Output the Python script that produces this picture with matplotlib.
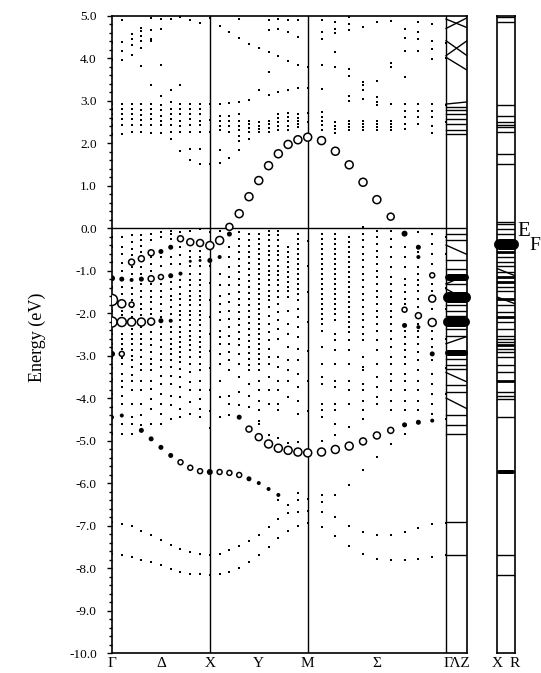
import numpy as np
import matplotlib
matplotlib.use('Agg')
import matplotlib.pyplot as plt

nan = np.nan

# ---------------- data ----------------
# symmetry points along the path (path lengths: Γ-X = 1, X-M = 1, M-Γ = √2, Γ-Z short)
sym_labels = ['Γ', 'Δ', 'X', 'Y', 'M', 'Σ', 'ΓΛZ']
n_steps = 10
gz_length = 0.214

# small dots: energies (eV) at each of the 31 k-points (Γ..X..M..Γ), conduction part
cond_cols = [
    [4.36, 3.96, 2.91, 2.81, 2.69, 2.57, 2.42, 2.22],
    [4.91, 4.38, 4.18, 3.96, 2.91, 2.81, 2.69, 2.57, 2.42, 2.22],
    [4.56, 4.45, 4.31, 4.08, 2.91, 2.81, 2.69, 2.57, 2.42, 2.26],
    [4.70, 4.63, 4.53, 4.41, 4.24, 3.81, 2.91, 2.77, 2.66, 2.54, 2.42, 2.26],
    [4.94, 4.67, 4.45, 4.40, 3.36, 2.91, 2.80, 2.68, 2.56, 2.42, 2.25],
    [4.92, 4.69, 3.83, 3.10, 2.90, 2.77, 2.65, 2.52, 2.42, 2.25],
    [4.93, 3.24, 2.97, 2.81, 2.69, 2.57, 2.43, 2.26, 2.10],
    [4.96, 3.36, 2.93, 2.80, 2.69, 2.53, 2.41, 2.26, 1.81],
    [4.89, 2.92, 2.80, 2.68, 2.56, 2.42, 2.26, 1.87, 1.61],
    [4.82, 2.93, 2.81, 2.69, 2.53, 2.42, 2.26, 1.87, 1.51],
    [4.95, 2.93, 2.55, 2.26, 1.50],
    [4.75, 2.93, 2.65, 2.53, 2.41, 2.30, 1.83, 1.53],
    [4.61, 2.94, 2.65, 2.53, 2.41, 2.26, 1.65],
    [4.92, 4.48, 2.96, 2.69, 2.53, 2.41, 2.30, 2.18, 2.06, 1.84],
    [4.34, 3.02, 2.53, 2.45, 2.35, 2.26, 2.10],
    [4.24, 3.25, 2.50, 2.41, 2.33, 2.26],
    [4.89, 4.67, 4.14, 3.67, 3.14, 2.53, 2.45, 2.35, 2.26],
    [4.92, 4.69, 4.04, 3.20, 2.69, 2.60, 2.50, 2.41, 2.30],
    [4.89, 4.61, 3.94, 3.25, 2.72, 2.62, 2.53, 2.41, 2.30],
    [4.89, 4.49, 3.83, 3.30, 2.69, 2.60, 2.53, 2.45, 2.38],
    [3.80, 3.30, 2.70, 2.50],
    [4.89, 4.61, 4.45, 3.84, 3.28, 2.74, 2.61, 2.53, 2.42, 2.30],
    [4.85, 4.69, 4.60, 4.14, 3.80, 2.49, 2.41, 2.33, 2.23],
    [4.98, 4.80, 4.66, 3.75, 3.59, 3.12, 2.99, 2.53, 2.45, 2.38, 2.30],
    [4.73, 3.43, 3.36, 3.25, 3.04, 2.53, 2.45, 2.38, 2.30],
    [4.84, 3.46, 3.08, 2.97, 2.90, 2.53, 2.45, 2.38, 2.30],
    [4.87, 3.89, 3.79, 2.93, 2.53, 2.45, 2.38, 2.30],
    [4.69, 4.48, 4.16, 3.55, 2.93, 2.76, 2.61, 2.45, 2.33],
    [4.85, 4.61, 4.45, 4.18, 2.93, 2.76, 2.61, 2.45],
    [4.81, 4.40, 4.22, 3.98, 2.93, 2.76, 2.61, 2.41, 2.23],
    [4.35, 4.00, 2.90, 2.50],
]

# small dots, valence part
val_cols = [
    [-0.20, -0.45, -0.80, -1.39, -1.95, -2.49, -2.72, -3.05, -3.30, -3.55, -3.90, -4.20, -4.50, -4.85],
    [-0.20, -0.45, -0.60, -0.82, -1.00, -1.39, -1.55, -1.95, -2.05, -2.49, -2.60, -2.72, -2.85, -3.05, -3.19,
     -3.43, -3.60, -3.74, -3.95, -4.13, -4.60, -4.84],
    [-0.17, -0.33, -0.49, -0.64, -0.92, -1.07, -1.40, -1.55, -1.70, -1.86, -1.98, -2.09, -2.37, -2.49, -2.60,
     -2.72, -2.88, -3.00, -3.11, -3.27, -3.45, -3.59, -3.82, -4.13, -4.45, -4.60, -4.84],
    [-0.17, -0.29, -0.41, -0.57, -0.92, -1.07, -1.31, -1.47, -1.63, -1.78, -1.90, -2.05, -2.33, -2.49, -2.60,
     -2.72, -2.88, -3.03, -3.19, -3.35, -3.59, -3.82, -4.13, -4.41, -4.64],
    [-0.13, -0.29, -0.68, -0.84, -1.00, -1.31, -1.47, -1.63, -1.74, -1.90, -2.02, -2.13, -2.29, -2.45, -2.60,
     -2.76, -2.92, -3.07, -3.19, -3.35, -3.59, -3.78, -4.02, -4.25, -4.60],
    [-0.10, -0.21, -0.68, -0.88, -1.31, -1.47, -1.63, -1.78, -1.94, -2.09, -2.33, -2.49, -2.64, -2.80, -2.96,
     -3.11, -3.27, -3.47, -3.66, -3.90, -4.13, -4.37, -4.60],
    [-0.06, -0.13, -0.25, -0.68, -0.84, -1.27, -1.43, -1.59, -1.70, -1.86, -2.02, -2.33, -2.45, -2.60,
     -2.72, -2.84, -2.96, -3.11, -3.27, -3.47, -3.66, -3.94, -4.17, -4.49],
    [-0.10, -0.45, -0.64, -0.84, -1.23, -1.39, -1.55, -1.66, -1.82, -1.94, -2.05, -2.17, -2.33, -2.45, -2.57,
     -2.68, -2.80, -2.92, -3.03, -3.15, -3.31, -3.51, -3.74, -3.98, -4.25, -4.45],
    [-0.06, -0.53, -0.68, -0.88, -1.07, -1.23, -1.35, -1.47, -1.59, -1.70, -1.82, -1.94, -2.05, -2.17, -2.29,
     -2.41, -2.53, -2.64, -2.76, -2.88, -3.03, -3.19, -3.39, -3.63, -3.82, -4.09, -4.37],
    [-0.02, -0.53, -0.68, -0.88, -1.07, -1.23, -1.35, -1.47, -1.59, -1.70, -1.82, -1.94, -2.05, -2.17, -2.29,
     -2.41, -2.57, -2.68, -2.80, -2.92, -3.03, -3.19, -3.35, -3.59, -3.82, -4.02, -4.25, -4.45],
    [-0.10, -0.90, -1.30, -1.70, -2.10, -2.50, -2.90, -3.30, -3.80, -4.30, -4.70],
    [-0.06, -1.08, -1.35, -1.59, -1.78, -1.98, -2.17, -2.41, -2.57, -2.72, -2.96, -3.19, -3.59, -3.98, -4.45],
    [-0.45, -0.68, -0.92, -1.15, -1.35, -1.55, -1.74, -1.94, -2.13, -2.33, -2.53, -2.72, -2.92, -3.11, -3.35,
     -3.94, -4.13, -4.41],
    [-0.09, -0.25, -0.41, -0.57, -0.72, -0.88, -1.04, -1.19, -1.35, -1.51, -1.66, -1.82, -1.98, -2.13, -2.29,
     -2.45, -2.60, -2.76, -2.96, -3.19, -3.51, -3.86, -4.17],
    [-0.13, -0.27, -0.41, -0.55, -0.69, -0.83, -0.97, -1.11, -1.25, -1.39, -1.53, -1.67, -1.81, -1.95, -2.09,
     -2.23, -2.37, -2.51, -2.65, -2.80, -2.94, -3.08, -3.23, -3.35, -3.66, -3.94, -4.21],
    [-0.13, -0.25, -0.37, -0.49, -0.61, -0.72, -0.84, -0.96, -1.08, -1.19, -1.31, -1.43, -1.55, -1.67, -1.78,
     -1.90, -2.02, -2.14, -2.25, -2.37, -2.49, -2.61, -2.72, -2.84, -2.96, -3.08, -3.19, -3.35, -3.59, -3.82,
     -4.06, -4.29, -4.53, -4.62],
    [-0.06, -0.17, -0.29, -0.41, -0.53, -0.64, -0.76, -0.88, -1.00, -1.11, -1.23, -1.35, -1.47, -1.59, -1.70,
     -1.86, -2.06, -2.25, -2.45, -2.64, -2.84, -3.04, -3.19, -3.51, -3.82, -4.13, -4.87],
    [-0.06, -0.17, -0.29, -0.41, -0.53, -0.64, -0.76, -0.88, -1.00, -1.11, -1.23, -1.35, -1.47, -1.63, -1.78,
     -1.98, -2.17, -2.37, -2.61, -3.04, -3.27, -3.59, -3.82, -4.13, -4.29, -4.95, -6.41],
    [-0.45, -0.57, -0.68, -0.80, -0.92, -1.04, -1.15, -1.27, -1.39, -1.47, -1.63, -1.94, -2.25, -2.49, -2.80,
     -3.11, -3.35, -3.59, -3.98, -5.05, -6.52],
    [-0.13, -0.25, -0.37, -0.49, -0.61, -0.72, -0.84, -0.96, -1.08, -1.19, -1.31, -1.43, -1.55, -1.70, -1.90,
     -2.10, -2.33, -2.57, -2.84, -3.11, -3.43, -3.74, -4.06, -4.37, -5.04, -6.23],
    [-0.30, -0.90, -1.50, -2.20, -2.90, -3.60, -4.30],
    [-0.13, -0.25, -0.37, -0.49, -0.61, -0.72, -0.84, -0.96, -1.08, -1.19, -1.31, -1.43, -1.55, -1.67, -1.78,
     -1.90, -2.02, -2.14, -2.25, -2.41, -2.80, -3.19, -3.51, -3.66, -4.13, -4.29, -4.45, -5.00, -6.45],
    [-0.13, -0.25, -0.37, -0.49, -0.61, -0.72, -0.84, -0.96, -1.08, -1.19, -1.31, -1.43, -1.55, -1.67, -1.78,
     -1.90, -2.02, -2.17, -2.49, -2.64, -2.88, -3.19, -3.59, -3.74, -4.13, -4.29, -4.60, -4.86],
    [-0.21, -0.33, -0.45, -0.57, -0.68, -0.80, -0.92, -1.04, -1.15, -1.27, -1.39, -1.51, -1.63, -1.74, -1.86,
     -1.98, -2.10, -2.21, -2.33, -2.45, -2.64, -2.88, -3.19, -3.59, -3.82, -4.13, -4.68],
    [0.02, -0.13, -0.29, -0.45, -0.60, -0.76, -0.92, -1.08, -1.23, -1.39, -1.55, -1.70, -1.86, -2.02, -2.17,
     -2.33, -2.49, -2.64, -3.04, -3.27, -3.35, -3.66, -3.82, -4.06, -4.29, -4.50],
    [-0.06, -0.21, -0.37, -0.53, -0.68, -0.84, -1.00, -1.15, -1.31, -1.47, -1.63, -1.78, -1.94, -2.10, -2.25,
     -2.41, -2.64, -2.88, -3.19, -3.51, -3.74, -3.98, -4.13],
    [-0.06, -0.25, -0.45, -0.68, -0.92, -1.15, -1.31, -1.47, -1.63, -1.78, -1.94, -2.10, -2.25, -2.41, -2.61,
     -2.80, -3.04, -3.19, -3.43, -3.59, -3.82, -4.06, -4.29],
    [-0.45, -0.68, -0.92, -1.19, -1.35, -1.51, -1.67, -1.78, -2.41, -2.57, -2.72, -2.88, -3.04, -3.19, -3.43,
     -3.59, -3.82, -4.06, -4.29],
    [-0.09, -0.57, -0.92, -1.08, -1.23, -1.35, -1.47, -1.67, -1.86, -2.25, -2.41, -2.57, -2.72, -2.92, -3.11,
     -3.35, -3.59, -3.82, -4.06, -4.29],
    [-0.13, -0.37, -0.60, -0.84, -1.31, -1.47, -1.90, -2.41, -2.61, -2.80, -3.11, -3.43, -3.66, -3.90, -4.13,
     -4.37],
    [-0.20, -0.60, -1.40, -1.90, -2.60, -3.30, -3.90, -4.50],
]

# deep bands (31 k-points each)
deep_band_1 = [-6.92, -6.96, -7.02, -7.12, -7.22, -7.34, -7.46, -7.55, -7.63, -7.68, -7.69,
               -7.66, -7.58, -7.49, -7.37, -7.22, -7.04, -6.84, -6.71, -6.67, -6.66,
               -6.68, -6.80, -7.00, -7.15, -7.23, -7.23, -7.16, -7.06, -6.96, -6.93]
deep_band_2 = [-7.68, -7.70, -7.74, -7.80, -7.86, -7.92, -8.02, -8.10, -8.14, -8.15, -8.17,
               -8.14, -8.10, -8.00, -7.86, -7.70, -7.51, -7.29, -7.12, -7.00, -6.95,
               -7.04, -7.25, -7.49, -7.66, -7.78, -7.82, -7.80, -7.78, -7.73, -7.69]
deep_band_3 = [nan, nan, nan, nan, nan, nan, nan, nan, nan, nan, nan,
               nan, nan, nan, nan, nan, nan, nan, nan, -6.41, -6.38,
               -6.29, -6.29, -6.04, -5.70, -5.39, -5.08, -4.84, nan, nan, nan]

# weighted (fat-band) markers: k index, energy, marker diameter (px)
open_k = [0, 0, 1, 1, 1, 2, 2, 2, 3, 3, 4, 4, 4, 5, 7, 8, 9, 10, 11, 12,
          13, 14, 15, 16, 17, 18, 19, 20, 21, 22, 23, 24, 25, 26,
          27, 28, 29, 29, 29,
          7, 8, 9, 11, 12, 13,
          14, 15, 16, 17, 18, 19, 20, 21, 22, 23, 24, 25, 26]
open_e = [-1.69, -2.21, -1.78, -2.21, -2.96, -0.80, -1.80, -2.21, -0.72, -2.21, -0.58, -1.19, -2.20, -1.15,
          -0.25, -0.33, -0.35, -0.41, -0.29, 0.03,
          0.34, 0.74, 1.12, 1.47, 1.75, 1.97, 2.08, 2.14, 2.06, 1.81, 1.49, 1.08, 0.67, 0.27,
          -1.92, -2.06, -1.11, -1.66, -2.22,
          -5.51, -5.64, -5.72, -5.74, -5.76, -5.81,
          -4.73, -4.92, -5.08, -5.18, -5.23, -5.27, -5.29, -5.27, -5.21, -5.13, -5.02, -4.88, -4.76]
open_d = [11, 10, 8, 9, 5, 6, 5, 8, 6, 8, 6, 6, 7, 5, 6, 7, 7, 8, 8, 7,
          8, 8, 8, 8, 8, 8, 8, 8, 8, 8, 8, 8, 8, 7,
          5, 6, 5, 7, 8,
          5, 5, 5, 5, 5, 5,
          6, 7, 8, 8, 8, 8, 8, 8, 8, 8, 7, 7, 6]

fill_k = [0, 0, 1, 2, 3, 5, 5, 6, 6, 6, 7, 8, 9, 10, 11, 12,
          27, 28, 28, 27, 29, 28,
          3, 4, 5, 6, 10, 14, 15, 16, 17, 13, 27, 28, 29, 1, 0]
fill_e = [-1.18, -2.96, -1.20, -1.22, -1.20, -0.55, -2.18, -0.45, -1.12, -2.18, -1.07, -0.78, -0.76, -0.76,
          -0.68, -0.14,
          -0.13, -0.45, -0.68, -2.29, -2.96, -2.33,
          -4.76, -4.96, -5.16, -5.35, -5.74, -5.90, -6.00, -6.14, -6.28, -4.45, -4.63, -4.57, -4.53, -4.41, -4.45]
fill_d = [6, 6, 5, 4, 5, 5, 5, 5, 5, 4, 4, 3, 3, 5, 4, 5,
          6, 5, 4, 5, 5, 4,
          5, 5, 5, 5, 6, 5, 4, 4, 4, 5, 5, 5, 4, 4, 4]

# Γ-Z strip: energy at Γ and at Z
gz_gamma = [4.92, 4.70, 4.41, 4.06, 4.02, 2.92, 2.85, 2.77, 2.69, 2.57, 2.45, 2.30, 2.22,
            -0.14, -0.29, -0.40, -0.76, -0.96, -1.31, -1.31, -1.43, -1.82, -1.94, -2.06, -2.37, -2.53,
            -2.72, -3.08, -3.23, -3.31, -3.40, -3.70, -3.86, -4.00, -4.41, -4.64, -4.84, -6.92, -7.69]
gz_z = [4.72, 4.95, 4.06, 4.41, 3.72, 2.97, 2.85, 2.77, 2.69, 2.57, 2.45, 2.30, 2.22,
        -0.14, -0.29, -0.62, -0.76, -0.96, -1.10, -1.31, -1.70, -1.82, -1.94, -2.06, -2.37, -2.53,
        -2.55, -3.08, -3.23, -3.31, -3.62, -3.70, -3.86, -4.25, -4.41, -4.64, -4.84, -6.92, -7.69]
gz_blob_e = [-1.16, -1.63, -2.21, -2.95]
gz_blob_w = [7, 11, 10, 6]

# X-R strip: energy at X and at R
xr_x = [4.96, 4.85, 2.90, 2.65, 2.49, 2.43, 2.38, 2.26, 1.75, 1.50, 0.14, 0.10, -0.02, -0.13,
        -0.57, -0.68, -0.80, -0.88, -0.95, -1.04, -1.15, -1.27, -1.39, -1.47, -1.62, -1.66, -1.82, -1.98,
        -2.10, -2.21, -2.37, -2.53, -2.60, -2.68, -2.76, -2.84, -2.92, -3.04, -3.23, -3.39, -3.59,
        -3.86, -3.94, -4.02, -4.45, -7.69, -8.16]
xr_r = [4.96, 4.85, 2.90, 2.65, 2.49, 2.43, 2.38, 2.26, 1.75, 1.50, 0.14, 0.10, -0.02, -0.13,
        -0.57, -0.68, -0.80, -0.88, -1.12, -1.04, -1.15, -1.27, -1.39, -1.47, -1.78, -1.66, -1.82, -1.98,
        -2.10, -2.21, -2.37, -2.53, -2.60, -2.68, -2.76, -2.84, -2.92, -3.04, -3.23, -3.39, -3.59,
        -3.86, -3.94, -4.02, -4.45, -7.69, -8.16]
xr_bold = [-0.57, -1.15, -1.27, -1.66, -2.10, -2.76, -3.59]
xr_blob_e = [-0.37, -5.74]
xr_blob_w = [11, 4]

# ---------------- figure ----------------
W, H = 541, 673
fig = plt.figure(figsize=(W / 100, H / 100), dpi=100)
serif = ['Liberation Serif', 'DejaVu Serif']
plt.rcParams['font.family'] = serif

px = 0.72  # points per pixel at 100 dpi
dot = (1.9 * px) ** 2

# k positions
seg = [1.0, 1.0, np.sqrt(2)]
kx = [0.0]
for L in seg:
    for i in range(n_steps):
        kx.append(kx[-1] + L / n_steps)
kx = np.array(kx)
x_X, x_M, x_G2 = kx[10], kx[20], kx[30]
x_Z = x_G2 + gz_length

ax = fig.add_axes([112 / W, 1 - 653 / H, 355 / W, 637.3 / H])
ax.set_xlim(0, x_Z)
ax.set_ylim(-10, 5)

# small dots
for cols in (cond_cols, val_cols):
    xs, ys = [], []
    for i, col in enumerate(cols):
        xs += [kx[i]] * len(col)
        ys += col
    ax.scatter(xs, ys, s=dot, c='black', marker='s', linewidths=0, zorder=3)

for band in (deep_band_1, deep_band_2, deep_band_3):
    ax.scatter(kx, band, s=dot, c='black', marker='s', linewidths=0, zorder=3)

# fat markers
ax.scatter(kx[open_k], open_e, s=(np.array(open_d) * px) ** 2, facecolors='white',
           edgecolors='black', linewidths=1.1, zorder=4)
ax.scatter(kx[fill_k], fill_e, s=(np.array(fill_d) * px) ** 2, c='black', linewidths=0, zorder=4)

# Γ-Z strip
for eg, ez in zip(gz_gamma, gz_z):
    ax.plot([x_G2, x_Z], [eg, ez], color='black', lw=1.0, zorder=3)
for e, w in zip(gz_blob_e, gz_blob_w):
    ax.plot([x_G2 + 0.02, x_Z - 0.02], [e, e], color='black', lw=w * px,
            solid_capstyle='round', clip_on=False, zorder=5)

# structural lines
for xv in (x_X, x_M, x_G2):
    ax.axvline(xv, color='black', lw=1.0, zorder=2)
ax.axhline(0.0, color='black', lw=1.0, zorder=2)

for sp in ax.spines.values():
    sp.set_linewidth(1.2)

ax.set_yticks(np.arange(-10, 5.01, 1.0))
ax.set_yticks(np.arange(-10, 5.01, 0.2), minor=True)
ax.yaxis.set_major_formatter(matplotlib.ticker.FormatStrFormatter('%.1f'))
ax.tick_params(axis='y', which='major', direction='out', length=5.5 * px, width=1.0,
               labelsize=9.5, pad=7)
ax.tick_params(axis='y', which='minor', direction='out', length=3.5 * px, width=1.0)
xt = [0.0, kx[5], x_X, kx[15], x_M, kx[25], (x_G2 + x_Z) / 2]
ax.set_xticks(xt)
ax.set_xticklabels(sym_labels, fontsize=11)
ax.tick_params(axis='x', length=0, pad=3)

# X-R panel
ax2 = fig.add_axes([497 / W, 1 - 653 / H, 18 / W, 637.3 / H])
ax2.set_xlim(0, 1)
ax2.set_ylim(-10, 5)
for ex, er in zip(xr_x, xr_r):
    lw = 2.0 if ex in xr_bold else 1.0
    ax2.plot([0, 1], [ex, er], color='black', lw=lw, zorder=3)
for e, w in zip(xr_blob_e, xr_blob_w):
    ax2.plot([0.12, 0.88], [e, e], color='black', lw=w * px, solid_capstyle='round',
             clip_on=False, zorder=5)
for sp in ax2.spines.values():
    sp.set_linewidth(1.2)
ax2.set_yticks([])
ax2.set_xticks([0, 1])
ax2.set_xticklabels(['X', 'R'], fontsize=11)
ax2.tick_params(axis='x', length=0, pad=3)

# labels
fig.text(37 / W, 1 - 337 / H, 'Energy (eV)', rotation=90, ha='center', va='center',
         fontsize=13, family=serif)
fig.text(517 / W, 1 - 231 / H, 'E', ha='left', va='center', fontsize=15, family=serif)
fig.text(529 / W, 1 - 245 / H, 'F', ha='left', va='center', fontsize=14, family=serif)

fig.savefig('out.png', dpi=100)
